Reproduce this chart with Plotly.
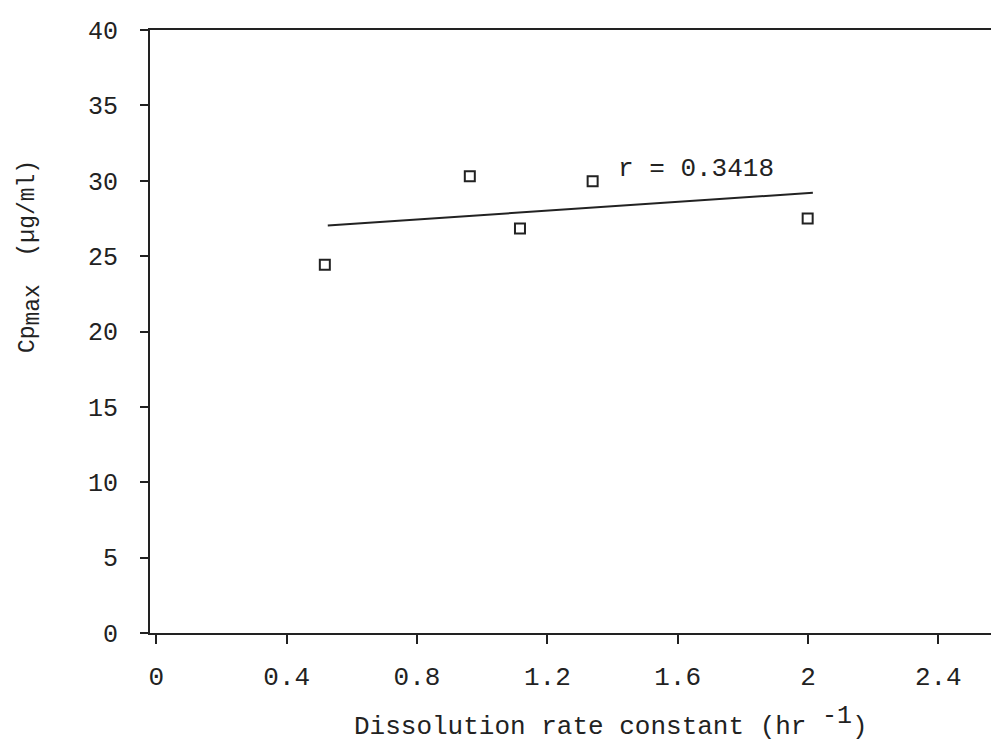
import plotly.graph_objects as go

# Measured points: dissolution rate constant (hr^-1) vs Cp max (ug/ml)
rate_constant = [0.517, 0.962, 1.116, 1.339, 1.999]
cp_max = [24.43, 30.30, 26.83, 29.97, 27.49]

# Fitted regression line end points
fit_x = [0.526, 2.015]
fit_y = [27.03, 29.20]

x_ticks = [0, 0.4, 0.8, 1.2, 1.6, 2.0, 2.4]
x_tick_text = ["0", "0.4", "0.8", "1.2", "1.6", "2", "2.4"]
y_ticks = [0, 5, 10, 15, 20, 25, 30, 35, 40]

r_label = "r = 0.3418"

INK = "#222222"
MONO = "Liberation Mono, Courier New, monospace"

fig = go.Figure()

fig.add_trace(go.Scatter(
    x=fit_x, y=fit_y, mode="lines",
    line=dict(color=INK, width=2),
    showlegend=False, hoverinfo="skip",
))

fig.add_trace(go.Scatter(
    x=rate_constant, y=cp_max, mode="markers",
    marker=dict(symbol="square-open", size=10, color=INK,
                line=dict(width=2, color=INK)),
    showlegend=False,
))

fig.add_annotation(
    x=1.656, y=30.8, xref="x", yref="y",
    text=r_label, showarrow=False,
    font=dict(family=MONO, size=26, color=INK),
    xanchor="center", yanchor="middle",
)

# y-axis title (rotated), with a typed (full-size) subscript
fig.add_annotation(
    x=-0.1427, y=0.625, xref="paper", yref="paper",
    text="Cp<sub><span style='font-size:23px'>max</span></sub>  (\u00b5g/ml)",
    textangle=-90, showarrow=False,
    font=dict(family=MONO, size=23, color=INK),
    xanchor="center", yanchor="middle",
)

# x-axis title with a typed (full-size) superscript
fig.add_annotation(
    x=0.2402, y=-0.148, xref="paper", yref="paper",
    text="Dissolution rate constant (hr <sup><span style='font-size:25px'>-1</span></sup>)",
    showarrow=False,
    font=dict(family=MONO, size=26, color=INK),
    xanchor="left", yanchor="middle",
)

fig.update_xaxes(
    range=[-0.0196, 2.5617],
    tickmode="array", tickvals=x_ticks, ticktext=x_tick_text,
    ticks="outside", ticklen=9, tickwidth=2, tickcolor=INK,
    showline=True, linewidth=2, linecolor=INK, mirror=True,
    showgrid=False, zeroline=False,
    tickfont=dict(family=MONO, size=26, color=INK),
    ticklabelstandoff=10,
)

fig.update_yaxes(
    range=[0, 40],
    tickmode="array", tickvals=y_ticks,
    ticks="outside", ticklen=8, tickwidth=2, tickcolor=INK,
    showline=True, linewidth=2, linecolor=INK,
    showgrid=False, zeroline=False,
    tickfont=dict(family=MONO, size=25, color=INK),
    ticklabelstandoff=17,
)

fig.update_layout(
    width=991, height=742,
    margin=dict(l=150, r=0, t=30, b=109),
    paper_bgcolor="white", plot_bgcolor="white",
)

fig.write_html("out.html")
